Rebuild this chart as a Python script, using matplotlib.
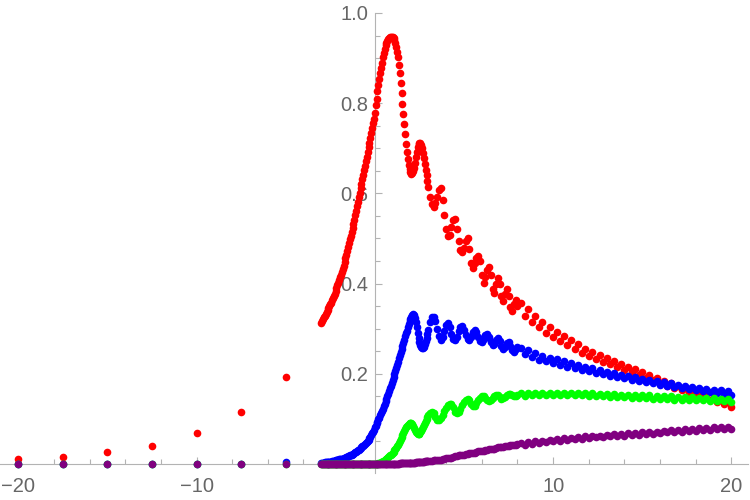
import numpy as np
import matplotlib
matplotlib.use('Agg')
import matplotlib.pyplot as plt

# ---------------- data ----------------
x_sparse = [-20, -17.5, -15, -12.5, -10, -7.5, -5]
red_sparse = [0.011, 0.015, 0.027, 0.040, 0.069, 0.115, 0.193]
blue_sparse = [0.0, 0.0, 0.0, 0.0, 0.0, 0.0, 0.004]
green_sparse = [0.0, 0.0, 0.0, 0.0, 0.0, 0.0, 0.0]
purple_sparse = [0.0, 0.0, 0.0, 0.0, 0.0, 0.0, 0.0]

# x = -3.0 ... 8.0 step 0.1
x_mid = np.round(np.arange(-3.0, 8.0001, 0.1), 1)
red_mid = [
    0.313, 0.321, 0.329, 0.337, 0.345, 0.354, 0.363, 0.373, 0.384, 0.396,
    0.408, 0.420, 0.433, 0.448, 0.464, 0.481, 0.498, 0.515, 0.533, 0.552,
    0.571, 0.591, 0.611, 0.631, 0.651, 0.671, 0.692, 0.712, 0.733, 0.755,
    0.778, 0.810, 0.840, 0.866, 0.890, 0.912, 0.928, 0.939, 0.945, 0.947,
    0.946, 0.940, 0.925, 0.902, 0.866, 0.822, 0.776, 0.731, 0.692, 0.663,
    0.647, 0.645, 0.657, 0.680, 0.702, 0.712, 0.708, 0.690, 0.665, 0.640,
    0.615, 0.592, 0.576, 0.570, 0.578, 0.593, 0.607, 0.612, 0.585, 0.552,
    0.522, 0.505, 0.508, 0.525, 0.540, 0.543, 0.522, 0.495, 0.475, 0.470,
    0.480, 0.495, 0.502, 0.476, 0.446, 0.435, 0.445, 0.456, 0.461, 0.450,
    0.418, 0.402, 0.415, 0.431, 0.437, 0.420, 0.388, 0.380, 0.400, 0.413,
    0.400, 0.373, 0.361, 0.378, 0.387, 0.372, 0.348, 0.340, 0.355, 0.364,
    0.350]
blue_mid = [
    0.003, 0.003, 0.004, 0.004, 0.005, 0.005, 0.006, 0.007, 0.008, 0.009,
    0.010, 0.011, 0.012, 0.014, 0.015, 0.017, 0.019, 0.021, 0.023, 0.026,
    0.029, 0.032, 0.035, 0.039, 0.043, 0.047, 0.051, 0.057, 0.064, 0.072,
    0.081, 0.090, 0.099, 0.108, 0.118, 0.128, 0.139, 0.150, 0.162, 0.174,
    0.187, 0.200, 0.213, 0.227, 0.241, 0.255, 0.269, 0.283, 0.296, 0.310,
    0.322, 0.331, 0.330, 0.315, 0.290, 0.270, 0.260, 0.258, 0.265, 0.280,
    0.298, 0.315, 0.325, 0.326, 0.318, 0.300, 0.283, 0.276, 0.282, 0.296,
    0.309, 0.312, 0.303, 0.288, 0.277, 0.275, 0.282, 0.294, 0.303, 0.305,
    0.298, 0.286, 0.277, 0.276, 0.282, 0.292, 0.297, 0.293, 0.282, 0.272,
    0.270, 0.277, 0.286, 0.289, 0.282, 0.270, 0.263, 0.266, 0.275, 0.279,
    0.273, 0.262, 0.256, 0.260, 0.268, 0.270, 0.262, 0.252, 0.249, 0.255,
    0.260]
green_mid = [
    0.0, 0.0, 0.0, 0.0, 0.0, 0.0, 0.0, 0.0, 0.0, 0.0,
    0.0, 0.0, 0.0, 0.0, 0.0, 0.0, 0.0, 0.0, 0.0, 0.0,
    0.0, 0.0, 0.0, 0.0, 0.0, 0.0, 0.0, 0.0, 0.0, 0.0,
    0.0, 0.001, 0.002, 0.003, 0.005, 0.007, 0.010, 0.013, 0.017, 0.021,
    0.025, 0.030, 0.036, 0.043, 0.051, 0.060, 0.069, 0.078, 0.085, 0.089,
    0.090, 0.088, 0.080, 0.071, 0.066, 0.067, 0.073, 0.082, 0.091, 0.100,
    0.108, 0.113, 0.115, 0.113, 0.105, 0.098, 0.097, 0.101, 0.109, 0.117,
    0.125, 0.131, 0.134, 0.133, 0.126, 0.116, 0.113, 0.116, 0.123, 0.131,
    0.138, 0.142, 0.144, 0.142, 0.134, 0.128, 0.129, 0.135, 0.142, 0.147,
    0.150, 0.150, 0.146, 0.141, 0.139, 0.141, 0.146, 0.150, 0.152, 0.152,
    0.148, 0.145, 0.146, 0.149, 0.153, 0.155, 0.155, 0.152, 0.150, 0.151,
    0.154]
purple_mid = [
    0.0, 0.0, 0.0, 0.0, 0.0, 0.0, 0.0, 0.0, 0.0, 0.0,
    0.0, 0.0, 0.0, 0.0, 0.0, 0.0, 0.0, 0.0, 0.0, 0.0,
    0.0, 0.0, 0.0, 0.0, 0.0, 0.0, 0.0, 0.0, 0.0, 0.0,
    0.0, 0.0, 0.0, 0.0, 0.0, 0.0, 0.0, 0.0, 0.0, 0.0,
    0.0, 0.001, 0.001, 0.001, 0.002, 0.002, 0.002, 0.003, 0.003, 0.003,
    0.003, 0.003, 0.003, 0.004, 0.004, 0.004, 0.005, 0.005, 0.006, 0.006,
    0.006, 0.006, 0.007, 0.008, 0.009, 0.009, 0.009, 0.009, 0.010, 0.012,
    0.013, 0.014, 0.014, 0.014, 0.015, 0.017, 0.018, 0.019, 0.019, 0.019,
    0.020, 0.022, 0.023, 0.024, 0.024, 0.024, 0.025, 0.027, 0.028, 0.029,
    0.029, 0.029, 0.030, 0.032, 0.033, 0.034, 0.034, 0.034, 0.035, 0.037,
    0.038, 0.038, 0.038, 0.039, 0.040, 0.041, 0.042, 0.042, 0.042, 0.043,
    0.044]

# extra samples in the steep part: x = -2.95 ... 2.95 step 0.1
x_fine = np.round(np.arange(-2.95, 2.96, 0.1), 2)
red_fine = [
    0.317, 0.325, 0.333, 0.341, 0.350, 0.358, 0.368, 0.378, 0.390, 0.402,
    0.414, 0.426, 0.440, 0.456, 0.472, 0.490, 0.506, 0.524, 0.542, 0.561,
    0.581, 0.601, 0.621, 0.641, 0.661, 0.681, 0.702, 0.722, 0.744, 0.766,
    0.795, 0.826, 0.854, 0.879, 0.902, 0.921, 0.934, 0.943, 0.947, 0.947,
    0.944, 0.933, 0.914, 0.885, 0.844, 0.799, 0.753, 0.710, 0.676, 0.653,
    0.644, 0.649, 0.668, 0.692, 0.709, 0.711, 0.700, 0.678, 0.652, 0.627]
blue_fine = [
    0.003, 0.003, 0.004, 0.004, 0.005, 0.005, 0.006, 0.007, 0.008, 0.009,
    0.010, 0.011, 0.013, 0.014, 0.016, 0.018, 0.020, 0.022, 0.024, 0.027,
    0.030, 0.033, 0.037, 0.041, 0.045, 0.049, 0.054, 0.060, 0.068, 0.076,
    0.085, 0.094, 0.103, 0.113, 0.123, 0.133, 0.144, 0.156, 0.168, 0.180,
    0.193, 0.206, 0.220, 0.234, 0.248, 0.262, 0.276, 0.290, 0.303, 0.316,
    0.327, 0.332, 0.324, 0.303, 0.279, 0.264, 0.258, 0.260, 0.272, 0.289]
green_fine = [
    0.0, 0.0, 0.0, 0.0, 0.0, 0.0, 0.0, 0.0, 0.0, 0.0,
    0.0, 0.0, 0.0, 0.0, 0.0, 0.0, 0.0, 0.0, 0.0, 0.0,
    0.0, 0.0, 0.0, 0.0, 0.0, 0.0, 0.0, 0.0, 0.0, 0.0,
    0.0, 0.0, 0.0, 0.004, 0.006, 0.008, 0.011, 0.015, 0.019, 0.023,
    0.027, 0.033, 0.039, 0.047, 0.055, 0.064, 0.074, 0.082, 0.087, 0.090,
    0.090, 0.084, 0.075, 0.068, 0.066, 0.070, 0.077, 0.086, 0.095, 0.104]
purple_fine = [
    0.0, 0.0, 0.0, 0.0, 0.0, 0.0, 0.0, 0.0, 0.0, 0.0,
    0.0, 0.0, 0.0, 0.0, 0.0, 0.0, 0.0, 0.0, 0.0, 0.0,
    0.0, 0.0, 0.0, 0.0, 0.0, 0.0, 0.0, 0.0, 0.0, 0.0,
    0.0, 0.0, 0.0, 0.0, 0.0, 0.0, 0.0, 0.0, 0.0, 0.0,
    0.0, 0.001, 0.001, 0.001, 0.002, 0.002, 0.002, 0.003, 0.003, 0.003,
    0.003, 0.003, 0.003, 0.004, 0.004, 0.004, 0.005, 0.005, 0.006, 0.006]

# x = 8.2 ... 20.0 step 0.2
x_far = np.round(np.arange(8.2, 20.0001, 0.2), 1)
red_far = [
    0.356, 0.328, 0.343, 0.315, 0.329, 0.303, 0.315, 0.291, 0.304, 0.282,
    0.293, 0.272, 0.284, 0.263, 0.275, 0.254, 0.265, 0.247, 0.256, 0.240,
    0.249, 0.233, 0.242, 0.226, 0.234, 0.221, 0.228, 0.215, 0.222, 0.209,
    0.216, 0.203, 0.210, 0.197, 0.204, 0.191, 0.197, 0.186, 0.191, 0.180,
    0.185, 0.174, 0.179, 0.168, 0.174, 0.163, 0.168, 0.157, 0.163, 0.152,
    0.158, 0.147, 0.153, 0.142, 0.148, 0.137, 0.143, 0.132, 0.138, 0.127]
blue_far = [
    0.258, 0.243, 0.252, 0.237, 0.246, 0.231, 0.240, 0.228, 0.236, 0.224,
    0.232, 0.220, 0.228, 0.216, 0.223, 0.213, 0.219, 0.209, 0.216, 0.206,
    0.212, 0.202, 0.209, 0.199, 0.205, 0.195, 0.201, 0.193, 0.198, 0.190,
    0.195, 0.187, 0.192, 0.184, 0.189, 0.181, 0.186, 0.179, 0.184, 0.176,
    0.181, 0.174, 0.179, 0.171, 0.176, 0.169, 0.174, 0.166, 0.171, 0.164,
    0.169, 0.162, 0.167, 0.160, 0.165, 0.158, 0.163, 0.156, 0.161, 0.154]
green_far = [
    0.157, 0.151, 0.158, 0.152, 0.158, 0.152, 0.158, 0.152, 0.158, 0.152,
    0.158, 0.152, 0.158, 0.152, 0.158, 0.152, 0.158, 0.152, 0.158, 0.151,
    0.157, 0.151, 0.156, 0.150, 0.156, 0.149, 0.155, 0.149, 0.154, 0.148,
    0.154, 0.147, 0.153, 0.147, 0.152, 0.146, 0.152, 0.145, 0.151, 0.145,
    0.150, 0.144, 0.150, 0.143, 0.149, 0.143, 0.148, 0.142, 0.148, 0.141,
    0.147, 0.141, 0.146, 0.140, 0.146, 0.139, 0.145, 0.139, 0.144, 0.138]
purple_far = [
    0.046, 0.043, 0.048, 0.045, 0.050, 0.047, 0.052, 0.049, 0.054, 0.050,
    0.055, 0.052, 0.057, 0.053, 0.058, 0.055, 0.060, 0.056, 0.061, 0.057,
    0.062, 0.059, 0.063, 0.060, 0.065, 0.061, 0.066, 0.062, 0.067, 0.063,
    0.068, 0.064, 0.069, 0.065, 0.070, 0.066, 0.071, 0.067, 0.072, 0.068,
    0.073, 0.070, 0.075, 0.071, 0.076, 0.072, 0.077, 0.073, 0.078, 0.074,
    0.079, 0.075, 0.080, 0.076, 0.081, 0.077, 0.081, 0.078, 0.082, 0.078]

series = [
    (red_sparse, red_mid, red_fine, red_far, '#ff0000'),
    (blue_sparse, blue_mid, blue_fine, blue_far, '#0000ff'),
    (green_sparse, green_mid, green_fine, green_far, '#00ff00'),
    (purple_sparse, purple_mid, purple_fine, purple_far, '#800080'),
]

x_major = [-20, -10, 10, 20]
x_minor = [-18, -16, -14, -12, -8, -6, -4, -2, 2, 4, 6, 8, 12, 14, 16, 18]
y_major = [0.2, 0.4, 0.6, 0.8, 1.0]
y_major_labels = ['0.2', '0.4', '0.6', '0.8', '1.0']
y_minor = [0.05, 0.1, 0.15, 0.25, 0.3, 0.35, 0.45, 0.5, 0.55, 0.65, 0.7, 0.75,
           0.85, 0.9, 0.95]

# ---------------- plot ----------------
plt.rcParams['font.family'] = ['Liberation Sans', 'DejaVu Sans']
fig = plt.figure(figsize=(7.5, 5), dpi=100)
ax = fig.add_axes([0, 0, 1, 1])
ax.set_xlim(-21.02, 21.04)
ax.set_ylim(-0.0798, 1.0288)

x_all = np.concatenate([x_sparse, x_mid, x_fine, x_far])
for ys, ym, yfi, yf, col in series:
    y_all = np.concatenate([ys, ym, yfi, yf])
    ax.plot(x_all, y_all, linestyle='none', marker='o', markersize=5.5,
            markeredgewidth=0, color=col, clip_on=False, zorder=3)

axis_col = '#b3b3b3'
for s in ['top', 'right']:
    ax.spines[s].set_visible(False)
ax.spines['left'].set_position(('data', 0))
ax.spines['bottom'].set_position(('data', 0))
ax.spines['left'].set_bounds(-0.02, 1.0)
ax.spines['bottom'].set_bounds(-21.02, 20.9)
for s in ['left', 'bottom']:
    ax.spines[s].set_color(axis_col)
    ax.spines[s].set_linewidth(0.8)
    ax.spines[s].set_zorder(1)

ax.set_xticks(x_major)
ax.set_xticklabels([f'{v:d}'.replace('-', '\u2212') for v in x_major])
ax.set_xticks(x_minor, minor=True)
ax.set_yticks(y_major)
ax.set_yticklabels(y_major_labels)
ax.set_yticks(y_minor, minor=True)

ax.tick_params(which='both', direction='in', color=axis_col, width=0.8,
               labelcolor='#666666', labelsize=14.5)
ax.tick_params(which='major', length=5.3)
ax.tick_params(which='minor', length=3.4)
ax.tick_params(axis='x', which='major', pad=9)
ax.tick_params(axis='y', which='major', pad=5)
ax.patch.set_alpha(0)

fig.savefig('out.png', dpi=100, facecolor='white')
